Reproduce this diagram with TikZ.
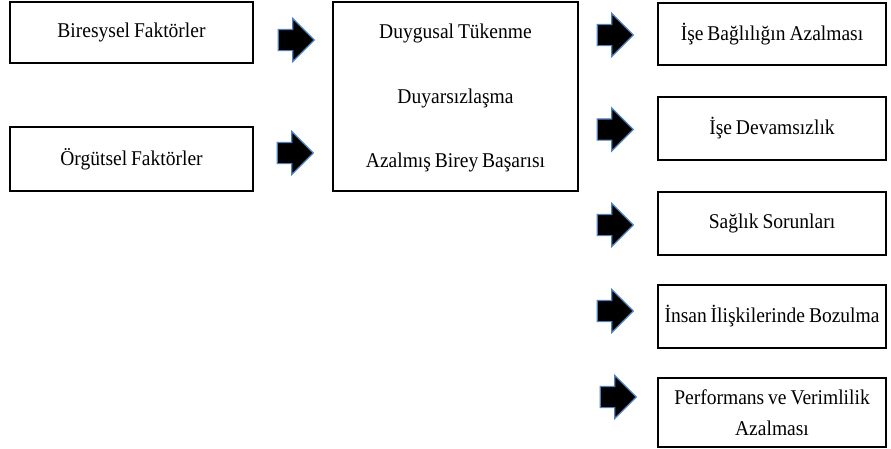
\documentclass[tikz,border=0pt]{standalone}
\usepackage{fontspec}
\setmainfont[FakeStretch=0.93,WordSpace=0.8]{Liberation Serif}
\usetikzlibrary{shapes.arrows}
\definecolor{arrowblue}{RGB}{79,129,189}

\begin{document}
\begin{tikzpicture}[x=1pt,y=-1pt]
	\tikzset{BoxStyle/.style =
		{draw,
			line width = 2pt,
			inner sep = 0pt,
			align = center,
			font = \fontsize{21}{31}\selectfont}}
	\tikzset{TextStyle/.style =
		{inner sep = 0pt,
			font = \fontsize{21}{31}\selectfont}}
	\tikzset{ArrowStyle/.style =
		{single arrow,
			draw = arrowblue,
			fill = black,
			line width = 1.2pt,
			inner xsep = 0pt,
			inner ysep = 10pt,
			minimum height = 36pt,
			single arrow head extend = 11pt}}
	\useasboundingbox (0,0) rectangle (891,448);
	% causes
	\node[BoxStyle, minimum width=243pt, minimum height=61pt] (Bir) at (131.5,32.5) {Biresysel Faktörler};
	\node[BoxStyle, minimum width=243pt, minimum height=64pt] (Org) at (131.5,159) {Örgütsel Faktörler};
	\node[ArrowStyle] (ArBir) at (291,40) {};
	\node[ArrowStyle] (ArOrg) at (290,153) {};
	% burnout
	\node[BoxStyle, minimum width=245pt, minimum height=189pt] (Mid) at (455.5,96.5) {};
	\node[TextStyle] (MidA) at (455.5,33) {Duygusal Tükenme};
	\node[TextStyle] (MidB) at (455.5,98) {Duyarsızlaşma};
	\node[TextStyle] (MidC) at (455.5,162) {Azalmış Birey Başarısı};
	% results
	\node[ArrowStyle] (ArA) at (610,35) {};
	\node[ArrowStyle] (ArB) at (610,129.5) {};
	\node[ArrowStyle] (ArC) at (610,225) {};
	\node[ArrowStyle] (ArD) at (610,311) {};
	\node[ArrowStyle] (ArE) at (613,397) {};
	\node[BoxStyle, minimum width=228pt, minimum height=62pt] (ResA) at (772,34) {İşe Bağlılığın Azalması};
	\node[BoxStyle, minimum width=228pt, minimum height=63pt] (ResB) at (772,128.5) {İşe Devamsızlık};
	\node[BoxStyle, minimum width=228pt, minimum height=63pt] (ResC) at (772,223.5) {Sağlık Sorunları};
	\node[BoxStyle, minimum width=228pt, minimum height=63pt] (ResD) at (772,316.5) {İnsan İlişkilerinde Bozulma};
	\node[BoxStyle, minimum width=228pt, minimum height=69pt] (ResE) at (772,412.5) {Performans ve Verimlilik\\Azalması};
\end{tikzpicture}
\end{document}
